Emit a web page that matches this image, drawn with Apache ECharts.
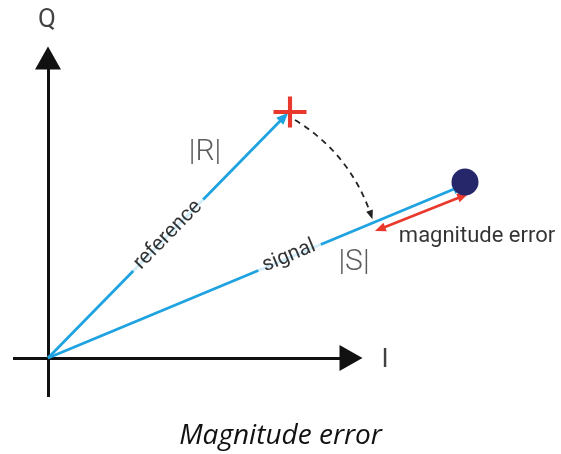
<!DOCTYPE html>
<html>
<head>
<meta charset="utf-8">
<script src="https://cdn.jsdelivr.net/npm/echarts@6/dist/echarts.min.js"></script>
<style>
  html, body { margin: 0; background: #fff; }
  #chart { width: 561px; height: 454px; }
</style>
</head>
<body>
<div id="chart"></div>
<script>
// diagram units: I to the right, Q upward, origin where the two axes cross
const axisI = [[-35, 0], [303, 0]];
const axisQ = [[0, -39], [0, 300]];
const reference = [[0, 0], [236, 241]];
const signal = [[0, 0], [411, 171]];
const magnitudeError = [[332, 129], [415, 162]];
const rotationArc = [[247, 238], [323, 143]];
const referencePoint = [[242, 246]];
const signalPoint = [[417, 176]];
const textNames = ["Q", "I", "|R|", "|S|", "reference", "signal", "magnitude error"];
const textAnchors = [[-1, 338], [337, -2], [157, 206], [306, 96], [120, 123], [241, 102], [429, 122]];

const BLUE = "#1ea3e0";
const RED = "#e8392c";

function angleOf(v) {
  return (Math.atan2(v[1][1] - v[0][1], v[1][0] - v[0][0]) * 180) / Math.PI;
}

// text styles, by name
const textStyles = {
  "Q": { fontSize: 26, color: "#111" },
  "I": { fontSize: 26, color: "#111" },
  "|R|": { fontSize: 30, fontWeight: 300, color: "#333" },
  "|S|": { fontSize: 30, fontWeight: 300, color: "#333" },
  "reference": { fontSize: 21, color: "#000", rotate: angleOf(reference), backgroundColor: "#fff", padding: [0, 6] },
  "signal": { fontSize: 21, color: "#000", rotate: angleOf(signal), backgroundColor: "#fff", padding: [0, 6] },
  "magnitude error": { fontSize: 22, color: "#000" },
};

const textData = textNames.map((name, i) => ({
  value: textAnchors[i],
  label: Object.assign(
    { show: true, position: "inside", formatter: name, fontFamily: "Roboto" },
    textStyles[name]
  ),
}));

const chart = echarts.init(document.getElementById("chart"));
chart.setOption({
  animation: false,
  title: {
    text: "Magnitude error",
    left: "center",
    top: 417,
    textStyle: { fontFamily: "Open Sans", fontStyle: "italic", fontWeight: "normal", fontSize: 28, color: "#111" },
  },
  grid: { left: 0, right: 0, top: 0, bottom: 0, containLabel: false },
  xAxis: { type: "value", min: -48, max: 513, show: false },
  yAxis: { type: "value", min: -96, max: 358, show: false },
  series: [
    {
      // I and Q axes
      type: "lines",
      coordinateSystem: "cartesian2d",
      silent: true,
      symbol: ["none", "triangle"],
      symbolSize: [0, [26, 23]],
      lineStyle: { color: "#111", width: 3, opacity: 1 },
      data: [{ coords: axisI }, { coords: axisQ }],
    },
    {
      type: "scatter",
      silent: true,
      symbolSize: 27,
      itemStyle: { color: "#26266a", opacity: 1 },
      data: signalPoint,
    },
    {
      // reference and signal vectors
      type: "lines",
      coordinateSystem: "cartesian2d",
      silent: true,
      symbol: ["none", "triangle"],
      symbolSize: [0, [10, 12]],
      lineStyle: { color: BLUE, width: 2.8, opacity: 1 },
      data: [{ coords: reference }, { coords: signal }],
    },
    {
      type: "lines",
      coordinateSystem: "cartesian2d",
      silent: true,
      symbol: ["triangle", "triangle"],
      symbolSize: [[9, 11], [9, 11]],
      lineStyle: { color: RED, width: 2.5, opacity: 1 },
      data: [{ coords: magnitudeError }],
    },
    {
      type: "lines",
      coordinateSystem: "cartesian2d",
      silent: true,
      symbol: ["none", "triangle"],
      symbolSize: [0, [7, 9]],
      lineStyle: { color: "#222", width: 1.8, type: [6, 5], curveness: 0.18, opacity: 1 },
      data: [{ coords: rotationArc }],
    },
    {
      type: "scatter",
      silent: true,
      symbol: "path://M14,0h4v14h14v4h-14v14h-4v-14h-14v-4h14z",
      symbolSize: [33, 31],
      itemStyle: { color: RED, opacity: 1 },
      data: referencePoint,
    },
    {
      type: "scatter",
      silent: true,
      z: 5,
      symbolSize: 1,
      itemStyle: { color: "rgba(0,0,0,0)" },
      data: textData,
    },
  ],
});
</script>
</body>
</html>
